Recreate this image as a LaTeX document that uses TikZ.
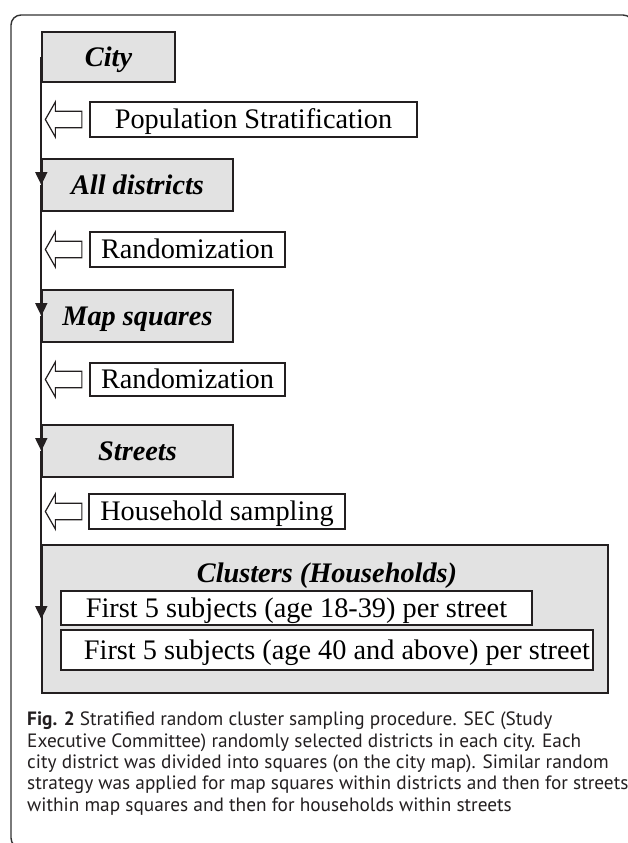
\documentclass[tikz,border=0pt]{standalone}
\usepackage{fontspec}
\setmainfont{Liberation Serif}
\newfontfamily\capfont{PT Sans}
\usetikzlibrary{arrows.meta,calc}
\definecolor{boxgray}{RGB}{226,226,226}
\definecolor{linec}{RGB}{35,31,32}
\definecolor{framec}{RGB}{50,50,50}
\begin{document}
\begin{tikzpicture}[x=1pt,y=-1pt,
  lbl/.style={draw=linec, line width=1.4pt, fill=boxgray, inner sep=0pt,
    font=\fontsize{28.3}{34}\selectfont\bfseries\itshape, text height=18.7pt, text depth=0pt},
  tbox/.style={draw=linec, line width=1.3pt, fill=white, inner sep=0pt,
    font=\fontsize{28.3}{34}\selectfont, text height=18.7pt, text depth=0pt},
  flow/.style={draw=linec, line width=1.9pt, -{Triangle[length=13pt,width=12pt]}},
  harrow/.style={draw=linec, line width=1.2pt, fill=white, line join=miter},
  framestyle/.style={draw=framec, line width=1.4pt, rounded corners=10pt},
  captext/.style={anchor=base west, align=left, inner sep=0pt, text=linec,
    font=\capfont\fontsize{19.3}{21.3}\selectfont}
]
\useasboundingbox (0,0) rectangle (628,843);
\begin{scope}
  \clip (0,0) rectangle (628,843);
  \draw[framestyle] (11,15) rectangle (633,848);
\end{scope}

% stage boxes
\node[lbl, minimum width=133pt, minimum height=50pt] (city) at (108.5,57) {City};
\node[lbl, minimum width=191pt, minimum height=52pt] (dist) at (137.5,185) {All districts};
\node[lbl, minimum width=191pt, minimum height=52pt] (map) at (137.5,316) {Map squares};
\node[lbl, minimum width=191pt, minimum height=52pt] (street) at (137.5,451) {Streets};
\node[lbl, minimum width=566pt, minimum height=148pt] (clus) at (325,619) {};
\node[anchor=base, inner sep=0pt, font=\fontsize{28.3}{34}\selectfont\bfseries\itshape] (clusT) at (327,582) {Clusters (Households)};

% action boxes
\node[tbox, minimum width=327pt, minimum height=35pt] (pop) at (253.5,119.5) {Population Stratification};
\node[tbox, minimum width=195pt, minimum height=35pt] (rand1) at (187.5,249.5) {Randomization};
\node[tbox, minimum width=195pt, minimum height=33pt] (rand2) at (187.5,379.5) {Randomization};
\node[tbox, minimum width=256pt, minimum height=35pt] (hh) at (217,511.5) {Household sampling};
\node[tbox, minimum width=471pt, minimum height=34pt] (sub1) at (296.5,608) {First 5 subjects (age 18-39) per street};
\node[tbox, minimum width=532pt, minimum height=40pt] (sub2) at (327,650) {\hspace*{20pt}First 5 subjects (age 40 and above) per street};

% flow line
\draw[flow] (city.west) -- (dist.west);
\draw[flow] (dist.west) -- (map.west);
\draw[flow] (map.west) -- (street.west);
\draw[flow] (street.west) -- (clus.west);

% hollow arrows
\foreach \b/\dx in {pop/44, rand1/44, rand2/44, hh/43}{
  \coordinate (tip-\b) at ($(\b.west)+(-\dx,0)$);
  \draw[harrow] (tip-\b) -- ++(10,-17.5) -- ++(0,9.25) -- ++(26.5,0) -- ++(0,16.5)
     -- ++(-26.5,0) -- ++(0,9.25) -- cycle;
}

% caption (base anchor = baseline of last line)
\node[captext] (cap) at (27,811) {\textbf{Fig. 2} Stratified random cluster sampling procedure. SEC (Study\\
Executive Committee) randomly selected districts in each city. Each\\
city district was divided into squares (on the city map). Similar random\\
strategy was applied for map squares within districts and then for streets\\
within map squares and then for households within streets};
\end{tikzpicture}
\end{document}
